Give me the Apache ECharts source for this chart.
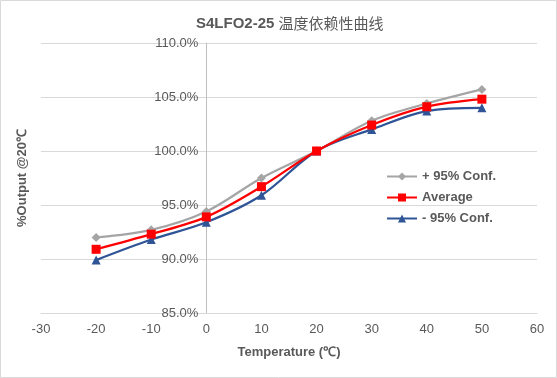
<!DOCTYPE html>
<html>
<head>
<meta charset="utf-8">
<script src="https://cdn.jsdelivr.net/npm/echarts@6/dist/echarts.min.js"></script>
<style>
html,body{margin:0;padding:0;background:#fff;}
#main{width:557px;height:378px;}
</style>
</head>
<body>
<div id="main"></div>
<script>
const temperatures = [-20, -10, 0, 10, 20, 30, 40, 50];
const plusConf = [92.0, 92.7, 94.4, 97.5, 100.0, 102.8, 104.4, 105.7];
const average = [90.9, 92.3, 93.9, 96.7, 100.0, 102.4, 104.1, 104.8];
const minusConf = [89.9, 91.8, 93.4, 95.9, 100.0, 102.0, 103.7, 104.0];
const seriesNames = ['+ 95% Conf.', 'Average', '- 95% Conf.'];

const pair = (vals) => temperatures.map((t, i) => [t, vals[i]]);
const txt = '#595959';
const font = 'Liberation Sans, Arial, sans-serif';

const W = 557, gridLeft = 41, gridRight = 20;
const xMin = -30, xMax = 60;
const yAxisOffset = -((0 - xMin) / (xMax - xMin)) * (W - gridLeft - gridRight);

const chart = echarts.init(document.getElementById('main'));
chart.setOption({
  animation: false,
  backgroundColor: '#fff',
  title: {
    text: '{a|S4LFO2-25 }{b|温度依赖性曲线}',
    left: 191,
    top: 11,
    textStyle: {
      rich: {
        a: { fontFamily: font, fontSize: 15, fontWeight: 'bold', color: txt },
        b: { fontFamily: 'Noto Sans CJK SC, sans-serif', fontSize: 15, fontWeight: 'normal', color: txt }
      }
    }
  },
  grid: { left: gridLeft, right: gridRight, top: 43, bottom: 65, containLabel: false, outerBoundsMode: 'none' },
  legend: {
    orient: 'vertical',
    left: 381,
    top: 165,
    itemWidth: 30,
    itemHeight: 10,
    itemGap: 8,
    textStyle: { fontFamily: font, fontSize: 13, color: txt, fontWeight: 'bold' },
    data: seriesNames
  },
  xAxis: {
    type: 'value',
    min: xMin, max: xMax, interval: 10,
    axisLine: { show: true, onZero: false, lineStyle: { color: '#d9d9d9', width: 1 } },
    axisTick: { show: false },
    splitLine: { show: false },
    axisLabel: { color: txt, fontFamily: font, fontSize: 13, margin: 10 }
  },
  yAxis: {
    type: 'value',
    min: 85, max: 110, interval: 5,
    offset: yAxisOffset,
    axisLine: { show: true, onZero: false, lineStyle: { color: '#bfbfbf', width: 1 } },
    axisTick: { show: false },
    splitLine: { show: true, lineStyle: { color: '#d9d9d9', width: 1 } },
    axisLabel: { color: txt, fontFamily: font, fontSize: 13, margin: 8, formatter: v => v.toFixed(1) + '%' }
  },
  graphic: [
    { type: 'rect', shape: { x: 0.5, y: 0.5, width: 556, height: 377 }, style: { fill: 'none', stroke: '#d9d9d9', lineWidth: 1 }, silent: true },
    { type: 'text', x: 289, y: 352, style: { text: 'Temperature (℃)', fill: txt, font: 'bold 13px ' + font, textAlign: 'center', textVerticalAlign: 'middle' } },
    { type: 'text', x: 22, y: 178, rotation: Math.PI / 2, style: { text: '%Output @20℃', fill: txt, font: 'bold 13px ' + font, textAlign: 'center', textVerticalAlign: 'middle' } }
  ],
  series: [
    { name: seriesNames[0], type: 'line', data: pair(plusConf), smooth: 0.33, symbol: 'diamond', symbolSize: 9,
      lineStyle: { color: '#a5a5a5', width: 2.25 }, itemStyle: { color: '#a5a5a5' }, z: 2 },
    { name: seriesNames[1], type: 'line', data: pair(average), smooth: 0.33, symbol: 'rect', symbolSize: 9,
      lineStyle: { color: '#ff0000', width: 2.25 }, itemStyle: { color: '#ff0000' }, z: 4 },
    { name: seriesNames[2], type: 'line', data: pair(minusConf), smooth: 0.33, symbol: 'triangle', symbolSize: 9,
      lineStyle: { color: '#2f5597', width: 2.25 }, itemStyle: { color: '#2f5597' }, z: 3 }
  ]
});
</script>
</body>
</html>
